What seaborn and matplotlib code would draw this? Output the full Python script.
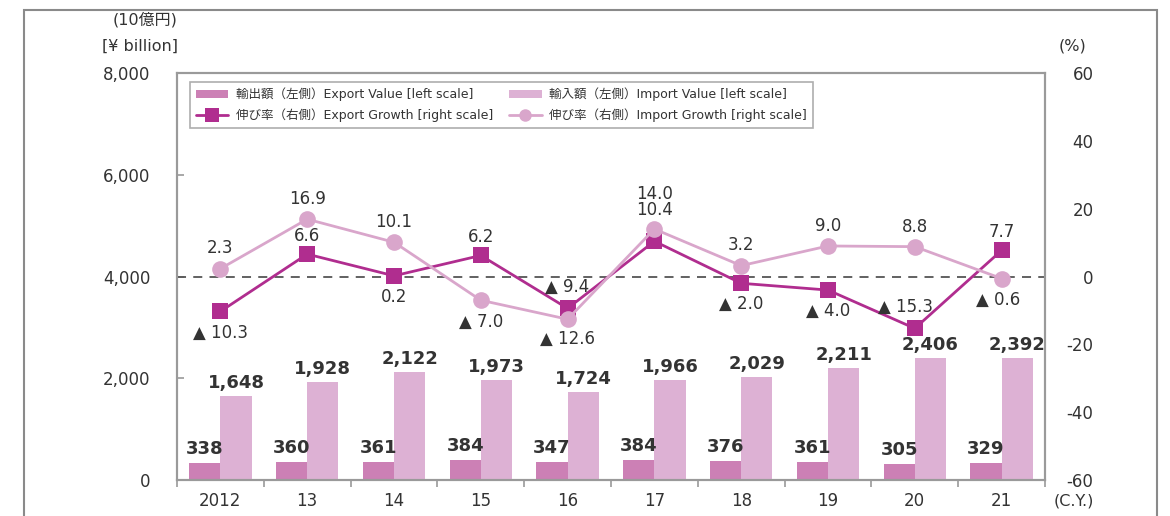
import numpy as np
import pandas as pd
import matplotlib
matplotlib.use("Agg")
import matplotlib.pyplot as plt
from matplotlib.patches import Patch, Rectangle
from matplotlib.lines import Line2D
import seaborn as sns

years = ["2012", "13", "14", "15", "16", "17", "18", "19", "20", "21"]
export_value = [338, 360, 361, 384, 347, 384, 376, 361, 305, 329]
import_value = [1648, 1928, 2122, 1973, 1724, 1966, 2029, 2211, 2406, 2392]
export_growth = [-10.3, 6.6, 0.2, 6.2, -9.4, 10.4, -2.0, -4.0, -15.3, 7.7]
import_growth = [2.3, 16.9, 10.1, -7.0, -12.6, 14.0, 3.2, 9.0, 8.8, -0.6]

sns.set_theme(style="white")
plt.rcParams["font.family"] = ["DejaVu Sans", "Noto Sans CJK JP"]
plt.rcParams["axes.unicode_minus"] = False

txt = "#333333"
spine_c = "#9a9a9a"
exp_bar = "#cc80b5"
imp_bar = "#ddb1d4"
exp_line = "#b02d8f"
imp_line = "#d9a6cb"

val_df = pd.DataFrame({
    "year": years * 2,
    "series": ["Export"] * len(years) + ["Import"] * len(years),
    "value": export_value + import_value,
})
pos = np.arange(len(years))
gr_df = pd.DataFrame({
    "pos": np.concatenate([pos, pos]),
    "series": ["Export"] * len(years) + ["Import"] * len(years),
    "growth": export_growth + import_growth,
})

fig = plt.figure(figsize=(11.7, 5.16), dpi=100)
ax = fig.add_axes([177 / 1170, 1 - 480 / 516, 868 / 1170, 407 / 516])

sns.barplot(data=val_df, x="year", y="value", hue="series", order=years,
            palette={"Export": exp_bar, "Import": imp_bar}, width=0.72,
            saturation=1, ax=ax, legend=False, linewidth=0, edgecolor="none")
ax.set_ylim(0, 8000)
ax.set_xlim(-0.5, len(years) - 0.5)
ax.set_yticks([0, 2000, 4000, 6000, 8000])
ax.set_yticklabels(["0", "2,000", "4,000", "6,000", "8,000"])
ax.set_xlabel("")
ax.set_ylabel("")
ax.tick_params(axis="y", direction="in", length=5, width=1.2, color=spine_c,
               pad=19, labelsize=12, labelcolor=txt, left=True)
ax.set_xticks(pos)
ax.set_xticklabels(years)
ax.tick_params(axis="x", length=0, pad=9, labelsize=12, labelcolor=txt)
ax.set_xticks(np.arange(-0.5, len(years)), minor=True)
ax.tick_params(axis="x", which="minor", direction="out", length=5, width=1.2,
               color=spine_c, bottom=True)
for s in ax.spines.values():
    s.set_color(spine_c)
    s.set_linewidth(1.5)

for i, v in enumerate(export_value):
    ax.annotate(f"{v:,}", (i - 0.18, v), xytext=(0, 5), textcoords="offset pixels",
                ha="center", va="bottom", fontsize=13, fontweight="bold", color=txt)
for i, v in enumerate(import_value):
    ax.annotate(f"{v:,}", (i + 0.18, v), xytext=(0, 4), textcoords="offset pixels",
                ha="center", va="bottom", fontsize=13, fontweight="bold", color=txt)

ax2 = ax.twinx()
ax2.axhline(0, color="#555555", ls=(0, (5, 4)), lw=1.3, zorder=1)
sns.lineplot(data=gr_df, x="pos", y="growth", hue="series", style="series",
             palette={"Export": exp_line, "Import": imp_line},
             markers={"Export": "s", "Import": "o"}, dashes=False,
             linewidth=2, markersize=12, markeredgewidth=0, legend=False, ax=ax2)
ax2.set_ylim(-60, 60)
ax2.set_xlim(-0.5, len(years) - 0.5)
ax2.set_yticks([-60, -40, -20, 0, 20, 40, 60])
ax2.set_ylabel("")
ax2.set_xlabel("")
ax2.tick_params(axis="y", length=0, pad=35, labelsize=12, labelcolor=txt, right=True)
for lab in ax2.get_yticklabels():
    lab.set_horizontalalignment("right")
for s in ax2.spines.values():
    s.set_color(spine_c)
    s.set_linewidth(1.5)


def fmt(v):
    return f"▲ {abs(v):.1f}" if v < 0 else f"{v:.1f}"


exp_off = [(0, -21), (0, 18), (0, -21), (0, 18), (0, 21), (0, 31),
           (0, -21), (0, -21), (-9, 21), (0, 18)]
imp_off = [(0, 21), (0, 20), (0, 20), (0, -22), (0, -20), (0, 35),
           (0, 21), (0, 20), (0, 20), (-3, -21)]
for i, v in enumerate(export_growth):
    ax2.annotate(fmt(v), (i, v), xytext=exp_off[i], textcoords="offset pixels",
                 ha="center", va="center", fontsize=12, color=txt)
for i, v in enumerate(import_growth):
    ax2.annotate(fmt(v), (i, v), xytext=imp_off[i], textcoords="offset pixels",
                 ha="center", va="center", fontsize=12, color=txt)

handles = [
    Patch(facecolor=exp_bar, edgecolor="none"),
    Line2D([], [], color=exp_line, lw=2, marker="s", markersize=10, markeredgewidth=0),
    Patch(facecolor=imp_bar, edgecolor="none"),
    Line2D([], [], color=imp_line, lw=2, marker="o", markersize=9, markeredgewidth=0),
]
labels = [
    "輸出額（左側）Export Value [left scale]",
    "伸び率（右側）Export Growth [right scale]",
    "輸入額（左側）Import Value [left scale]",
    "伸び率（右側）Import Growth [right scale]",
]
leg = ax2.legend(handles, labels, ncol=2, loc="upper left", bbox_to_anchor=(0.015, 0.978),
                 borderaxespad=0, fontsize=9, frameon=True, fancybox=False,
                 edgecolor=spine_c, handlelength=2.6, columnspacing=1.3,
                 handletextpad=0.6, borderpad=0.45, labelspacing=0.6)
leg.get_frame().set_linewidth(1.2)
for t in leg.get_texts():
    t.set_color(txt)

fig.text(145 / 1170, 1 - 20 / 516, "(10億円)", ha="center", va="center", fontsize=11.5, color=txt)
fig.text(140 / 1170, 1 - 46 / 516, "[¥ billion]", ha="center", va="center", fontsize=11.5, color=txt)
fig.text(1072 / 1170, 1 - 46 / 516, "(%)", ha="center", va="center", fontsize=11.5, color=txt)
fig.text(1074 / 1170, 1 - 501 / 516, "(C.Y.)", ha="center", va="center", fontsize=11.5, color=txt)

fig.patches.append(Rectangle((24 / 1170, -0.02), 1133 / 1170, 1 - 10 / 516 + 0.02,
                             transform=fig.transFigure, fill=False,
                             edgecolor="#8a8a8a", lw=1.5))

fig.savefig("out.png", dpi=100)
